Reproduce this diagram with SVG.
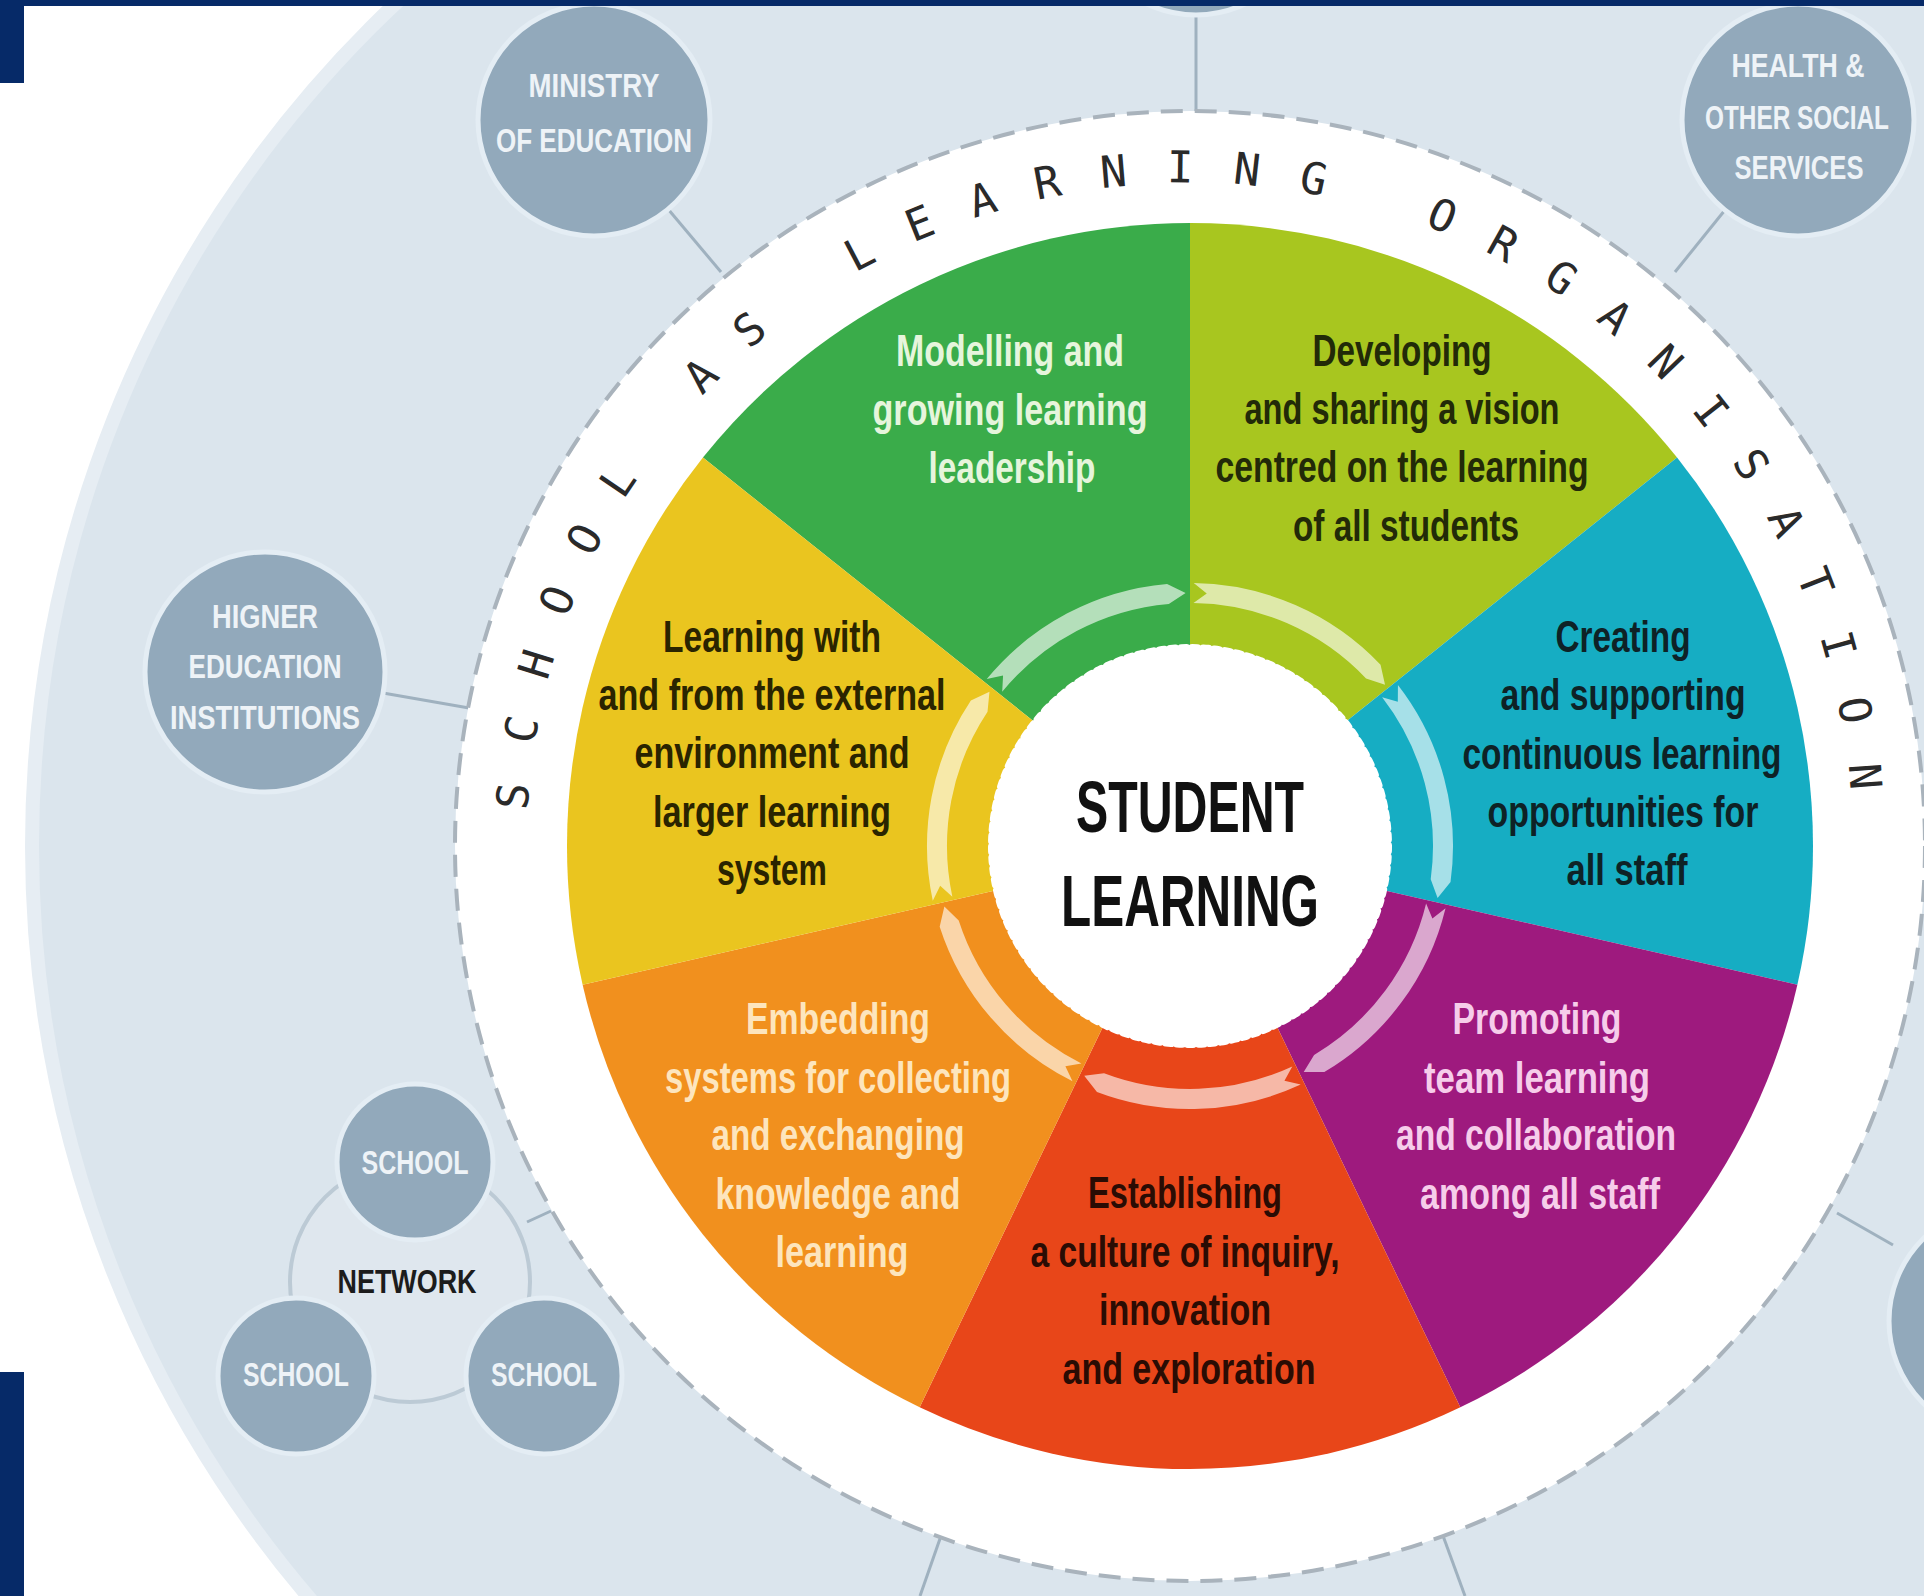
<svg xmlns="http://www.w3.org/2000/svg" xmlns:xlink="http://www.w3.org/1999/xlink" width="1924" height="1596" viewBox="0 0 1924 1596">
<style>
.node{fill:#92a9bb;stroke:#e4edf4;stroke-width:5}
.ntx{font-family:"Liberation Sans",Arial,sans-serif;font-weight:bold;font-size:33px;fill:#eef3f7;text-anchor:middle}
.conn{stroke:#9fb1bf;stroke-width:3;fill:none}
.seg{font-family:"Liberation Sans",Arial,sans-serif;font-weight:bold;font-size:44px;text-anchor:middle}
.arr{fill:#ffffff;fill-opacity:0.62}
.rtx{font-family:"DejaVu Sans Mono",monospace;font-size:44px;fill:#2a2a2a;letter-spacing:39.04px}
</style>
<defs>
<path id="arrow" d="M986.74 679.10 A263 263 0 0 1 1167.08 584.00 L1185.59 593.04 L1168.82 603.93 A243 243 0 0 0 1002.20 691.79 L1003.07 675.51 Z"/>
<path id="ringPath" d="M527.94 810.72 A663 663 0 1 1 1850.47 903.78"/>
</defs>
<rect x="0" y="0" width="1924" height="1596" fill="#ffffff"/>
<circle cx="1190" cy="846" r="1158" fill="#dbe5ed" stroke="#e6edf3" stroke-width="14"/>

<g id="connectors">
<line class="conn" x1="668" y1="209" x2="721" y2="272"/>
<line class="conn" x1="1725" y1="210" x2="1675" y2="272"/>
<line class="conn" x1="1196" y1="15" x2="1196" y2="111"/>
<line class="conn" x1="383" y1="693" x2="469" y2="708"/>
<line class="conn" x1="527" y1="1222" x2="551" y2="1211"/>
<line class="conn" x1="1837" y1="1213" x2="1893" y2="1245"/>
<line class="conn" x1="942" y1="1533" x2="920" y2="1596"/>
<line class="conn" x1="1442" y1="1533" x2="1465" y2="1596"/>
</g>

<g id="node-ministry">
<circle class="node" cx="594" cy="120" r="116"/>
<text class="ntx" x="594" y="97" textLength="131" lengthAdjust="spacingAndGlyphs">MINISTRY</text>
<text class="ntx" x="594" y="152" textLength="196" lengthAdjust="spacingAndGlyphs">OF EDUCATION</text>
</g>
<g id="node-health">
<circle class="node" cx="1798" cy="120" r="116"/>
<text class="ntx" x="1798" y="77" textLength="133" lengthAdjust="spacingAndGlyphs">HEALTH &amp;</text>
<text class="ntx" x="1797" y="129" textLength="184" lengthAdjust="spacingAndGlyphs">OTHER SOCIAL</text>
<text class="ntx" x="1799" y="179" textLength="129" lengthAdjust="spacingAndGlyphs">SERVICES</text>
</g>
<g id="node-top">
<circle class="node" cx="1196" cy="-100" r="115"/>
</g>
<g id="node-right">
<circle class="node" cx="2005" cy="1321" r="116"/>
</g>
<g id="node-higher">
<circle class="node" cx="265" cy="672" r="120"/>
<text class="ntx" x="265" y="628" textLength="106" lengthAdjust="spacingAndGlyphs">HIGNER</text>
<text class="ntx" x="265" y="678" textLength="153" lengthAdjust="spacingAndGlyphs">EDUCATION</text>
<text class="ntx" x="265" y="729" textLength="190" lengthAdjust="spacingAndGlyphs">INSTITUTIONS</text>
</g>
<g id="node-network">
<circle cx="410" cy="1282" r="120" fill="#dfe7ee" stroke="#bccad5" stroke-width="4"/>
<g id="node-school-1">
<circle class="node" cx="415" cy="1162" r="78"/>
<text class="ntx" x="415" y="1174" textLength="107" lengthAdjust="spacingAndGlyphs">SCHOOL</text>
</g>
<g id="node-school-2">
<circle class="node" cx="296" cy="1376" r="78"/>
<text class="ntx" x="296" y="1386" textLength="106" lengthAdjust="spacingAndGlyphs">SCHOOL</text>
</g>
<g id="node-school-3">
<circle class="node" cx="544" cy="1376" r="78"/>
<text class="ntx" x="544" y="1386" textLength="106" lengthAdjust="spacingAndGlyphs">SCHOOL</text>
</g>
<text class="ntx" x="407" y="1293" textLength="139" lengthAdjust="spacingAndGlyphs" style="fill:#1c1c1c">NETWORK</text>
</g>

<g id="ring">
<circle cx="1190" cy="846" r="735" fill="#ffffff" stroke="#a9b3bc" stroke-width="4" stroke-dasharray="22 12"/>
<text class="rtx"><textPath href="#ringPath" xlink:href="#ringPath" startOffset="0">SCHOOL</textPath></text>
<text class="rtx"><textPath href="#ringPath" xlink:href="#ringPath" startOffset="458.7">AS</textPath></text>
<text class="rtx"><textPath href="#ringPath" xlink:href="#ringPath" startOffset="655.3">LEARNING</textPath></text>
<text class="rtx"><textPath href="#ringPath" xlink:href="#ringPath" startOffset="1245.1">ORGANISATION</textPath></text>
</g>

<g id="seg-modelling">
<path d="M1190 846 L702.92 457.57 A623 623 0 0 1 1190 223 Z" fill="#3aac4a"/>
<text class="seg" fill="#e6f5dc" x="1010" y="366" textLength="228" lengthAdjust="spacingAndGlyphs">Modelling and</text>
<text class="seg" fill="#e6f5dc" x="1010" y="425" textLength="275" lengthAdjust="spacingAndGlyphs">growing learning</text>
<text class="seg" fill="#e6f5dc" x="1012" y="483" textLength="167" lengthAdjust="spacingAndGlyphs">leadership</text>
</g>
<g id="seg-developing">
<path d="M1190 846 L1190 223 A623 623 0 0 1 1677.08 457.57 Z" fill="#a8c61f"/>
<text class="seg" fill="#222a08" x="1402" y="366" textLength="179" lengthAdjust="spacingAndGlyphs">Developing</text>
<text class="seg" fill="#222a08" x="1402" y="424" textLength="315" lengthAdjust="spacingAndGlyphs">and sharing a vision</text>
<text class="seg" fill="#222a08" x="1402" y="482" textLength="373" lengthAdjust="spacingAndGlyphs">centred on the learning</text>
<text class="seg" fill="#222a08" x="1406" y="541" textLength="226" lengthAdjust="spacingAndGlyphs">of all students</text>
</g>
<g id="seg-creating">
<path d="M1190 846 L1677.08 457.57 A623 623 0 0 1 1797.38 984.63 Z" fill="#16adc3"/>
<text class="seg" fill="#0e2226" x="1623" y="652" textLength="135" lengthAdjust="spacingAndGlyphs">Creating</text>
<text class="seg" fill="#0e2226" x="1623" y="710" textLength="245" lengthAdjust="spacingAndGlyphs">and supporting</text>
<text class="seg" fill="#0e2226" x="1622" y="769" textLength="319" lengthAdjust="spacingAndGlyphs">continuous learning</text>
<text class="seg" fill="#0e2226" x="1623" y="827" textLength="271" lengthAdjust="spacingAndGlyphs">opportunities for</text>
<text class="seg" fill="#0e2226" x="1627" y="885" textLength="121" lengthAdjust="spacingAndGlyphs">all staff</text>
</g>
<g id="seg-promoting">
<path d="M1190 846 L1797.38 984.63 A623 623 0 0 1 1460.31 1407.30 Z" fill="#9e1a7e"/>
<text class="seg" fill="#f6cdea" x="1537" y="1034" textLength="169" lengthAdjust="spacingAndGlyphs">Promoting</text>
<text class="seg" fill="#f6cdea" x="1537" y="1093" textLength="226" lengthAdjust="spacingAndGlyphs">team learning</text>
<text class="seg" fill="#f6cdea" x="1536" y="1150" textLength="280" lengthAdjust="spacingAndGlyphs">and collaboration</text>
<text class="seg" fill="#f6cdea" x="1540" y="1209" textLength="240" lengthAdjust="spacingAndGlyphs">among all staff</text>
</g>
<g id="seg-establishing">
<path d="M1190 846 L1460.31 1407.30 A623 623 0 0 1 919.69 1407.30 Z" fill="#e84619"/>
<text class="seg" fill="#2a0c04" x="1185" y="1208" textLength="194" lengthAdjust="spacingAndGlyphs">Establishing</text>
<text class="seg" fill="#2a0c04" x="1185" y="1267" textLength="309" lengthAdjust="spacingAndGlyphs">a culture of inquiry,</text>
<text class="seg" fill="#2a0c04" x="1185" y="1325" textLength="172" lengthAdjust="spacingAndGlyphs">innovation</text>
<text class="seg" fill="#2a0c04" x="1189" y="1384" textLength="253" lengthAdjust="spacingAndGlyphs">and exploration</text>
</g>
<g id="seg-embedding">
<path d="M1190 846 L919.69 1407.30 A623 623 0 0 1 582.62 984.63 Z" fill="#f1901e"/>
<text class="seg" fill="#fde5bd" x="838" y="1034" textLength="184" lengthAdjust="spacingAndGlyphs">Embedding</text>
<text class="seg" fill="#fde5bd" x="838" y="1093" textLength="346" lengthAdjust="spacingAndGlyphs">systems for collecting</text>
<text class="seg" fill="#fde5bd" x="838" y="1150" textLength="253" lengthAdjust="spacingAndGlyphs">and exchanging</text>
<text class="seg" fill="#fde5bd" x="838" y="1209" textLength="245" lengthAdjust="spacingAndGlyphs">knowledge and</text>
<text class="seg" fill="#fde5bd" x="842" y="1267" textLength="133" lengthAdjust="spacingAndGlyphs">learning</text>
</g>
<g id="seg-learning">
<path d="M1190 846 L582.62 984.63 A623 623 0 0 1 702.92 457.57 Z" fill="#eac51f"/>
<text class="seg" fill="#2a2400" x="772" y="652" textLength="218" lengthAdjust="spacingAndGlyphs">Learning with</text>
<text class="seg" fill="#2a2400" x="772" y="710" textLength="347" lengthAdjust="spacingAndGlyphs">and from the external</text>
<text class="seg" fill="#2a2400" x="772" y="768" textLength="275" lengthAdjust="spacingAndGlyphs">environment and</text>
<text class="seg" fill="#2a2400" x="772" y="827" textLength="238" lengthAdjust="spacingAndGlyphs">larger learning</text>
<text class="seg" fill="#2a2400" x="772" y="885" textLength="110" lengthAdjust="spacingAndGlyphs">system</text>
</g>

<g id="cycle-arrows">
<use href="#arrow" xlink:href="#arrow" class="arr"/>
<use href="#arrow" xlink:href="#arrow" class="arr" transform="rotate(51.4286 1190 846)"/>
<use href="#arrow" xlink:href="#arrow" class="arr" transform="rotate(102.8571 1190 846)"/>
<use href="#arrow" xlink:href="#arrow" class="arr" transform="rotate(154.2857 1190 846)"/>
<use href="#arrow" xlink:href="#arrow" class="arr" transform="rotate(205.7143 1190 846)"/>
<use href="#arrow" xlink:href="#arrow" class="arr" transform="rotate(257.1429 1190 846)"/>
<use href="#arrow" xlink:href="#arrow" class="arr" transform="rotate(308.5714 1190 846)"/>
</g>

<g id="node-student-learning">
<circle cx="1190" cy="846" r="198" fill="#ffffff" stroke="#ffffff" stroke-width="8" stroke-dasharray="5 6" stroke-linecap="round"/>
<text x="1190" y="832" font-family="'Liberation Sans',Arial,sans-serif" font-weight="bold" font-size="72" fill="#111111" text-anchor="middle" textLength="228" lengthAdjust="spacingAndGlyphs">STUDENT</text>
<text x="1190" y="926" font-family="'Liberation Sans',Arial,sans-serif" font-weight="bold" font-size="72" fill="#111111" text-anchor="middle" textLength="258" lengthAdjust="spacingAndGlyphs">LEARNING</text>
</g>

<g id="frame" fill="#062a68">
<rect x="0" y="0" width="1924" height="6"/>
<rect x="0" y="0" width="24" height="83"/>
<rect x="0" y="1372" width="24" height="224"/>
</g>
</svg>
